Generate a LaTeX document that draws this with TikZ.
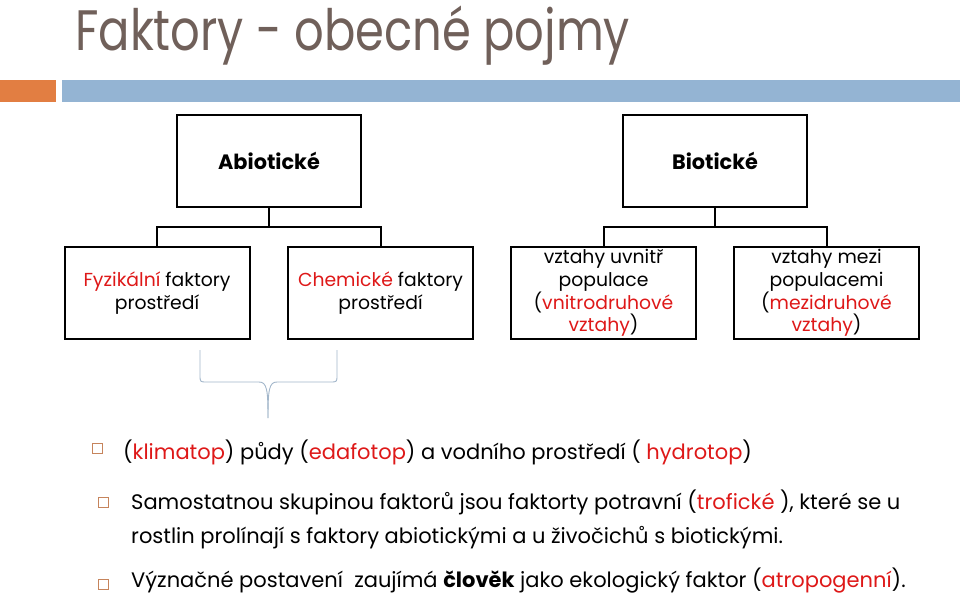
\documentclass[tikz,border=0pt]{standalone}
\usepackage{fontspec}
\setmainfont{Poppins}
\newfontfamily\titlefont[FakeStretch=0.815]{Poppins}
\usepackage{xcolor}
\usetikzlibrary{positioning}
\definecolor{titlegray}{RGB}{112,96,90}
\definecolor{barorange}{RGB}{226,126,66}
\definecolor{barblue}{RGB}{148,180,211}
\definecolor{keyred}{RGB}{222,24,24}
\definecolor{bulletcol}{RGB}{198,132,92}
\definecolor{bracecol}{RGB}{162,182,202}

\begin{document}
\begin{tikzpicture}[x=1pt, y=-1pt]
  \useasboundingbox (0,0) rectangle (960,595);

  \tikzstyle{catbox} = [draw, line width=2pt, minimum width=184pt,
  minimum height=92pt, inner sep=0pt,
  font=\bfseries\fontsize{20.8}{24}\selectfont] % Abioticke / Bioticke
  \tikzstyle{subbox} = [draw, line width=2pt, minimum width=185pt,
  minimum height=92pt, inner sep=0pt, align=center,
  font=\fontsize{18.8}{22.6}\selectfont]
  \tikzstyle{bulletsq} = [draw=bulletcol, line width=0.8pt,
  minimum size=10pt, inner sep=0pt]
  \tikzstyle{line} = [anchor=base west, inner sep=0pt,
  font=\fontsize{21}{24}\selectfont]

  % title and bars
  \node[anchor=base west, inner sep=0pt, text=titlegray,
  font=\titlefont\fontsize{57}{60}\selectfont] (title) at (75,50)
  {Faktory - obecné pojmy};
  \fill[barorange] (0,80) rectangle (56,102);
  \fill[barblue] (62,80) rectangle (960,102);

  % abiotic branch
  \node[catbox] (abio) at (269,161) {Abiotické};
  \node[subbox] (fyz) at (157,293)
  {{\color{keyred}Fyzikální} faktory\\prostředí};
  \node[subbox] (chem) at (380.5,293)
  {{\color{keyred}Chemické} faktory\\prostředí};

  % biotic branch
  \node[catbox] (bio) at (715,161) {Biotické};
  \node[subbox] (uvnitr) at (603.5,293)
  {vztahy uvnitř\\populace\\({\color{keyred}vnitrodruhové}\\{\color{keyred}vztahy})};
  \node[subbox] (mezi) at (826.5,293)
  {vztahy mezi\\populacemi\\({\color{keyred}mezidruhové}\\{\color{keyred}vztahy})};

  \draw[line width=2pt] (abio.south) -- ++(0,19) -| (fyz.north);
  \draw[line width=2pt] (abio.south) -- ++(0,19) -| (chem.north);
  \draw[line width=2pt] (bio.south) -- ++(0,19) -| (uvnitr.north);
  \draw[line width=2pt] (bio.south) -- ++(0,19) -| (mezi.north);

  % brace under the abiotic boxes
  \draw[bracecol, line width=0.9pt]
  (200,350) -- (200,375) .. controls (200,382) .. (207,382) -- (259,382)
  .. controls (267,382) and (268,390) .. (268,418);
  \draw[bracecol, line width=0.9pt]
  (337,350) -- (337,375) .. controls (337,382) .. (330,382) -- (277,382)
  .. controls (269,382) and (268,390) .. (268,418);

  % bullet points
  \node[bulletsq] (b1) at (97.5,448.5) {};
  \node[bulletsq] (b2) at (103.5,502) {};
  \node[bulletsq] (b3) at (103.5,584.5) {};

  \node[line] (l1) at (123,459)
  {({\color{keyred}klimatop}) půdy ({\color{keyred}edafotop}) a vodního prostředí ( {\color{keyred}hydrotop})};
  \node[line] (l2) at (131,509)
  {Samostatnou skupinou faktorů jsou faktorty potravní ({\color{keyred}trofické} ), které se u};
  \node[line] (l3) at (131,543)
  {rostlin prolínají s faktory abiotickými a u živočichů s biotickými.};
  \node[line] (l4) at (131,587)
  {Význačné postavení \ zaujímá \textbf{člověk} jako ekologický faktor ({\color{keyred}atropogenní}).};

\end{tikzpicture}
\end{document}
